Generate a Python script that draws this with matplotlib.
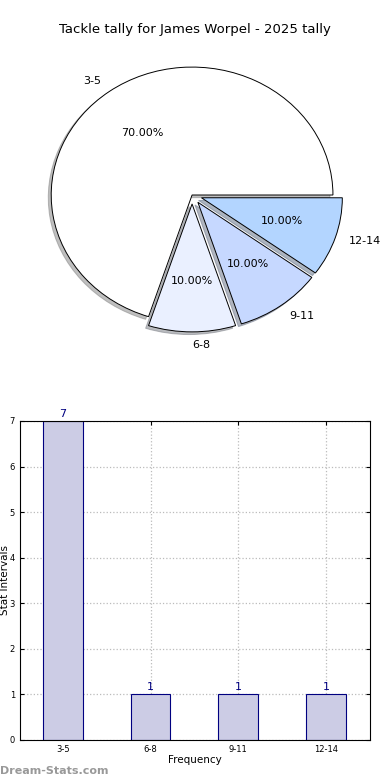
#%% Imports
import matplotlib
matplotlib.use('Agg')
import matplotlib.pyplot as plt

#%% Data
intervals = ['3-5', '6-8', '9-11', '12-14']
counts = [7, 1, 1, 1]
pie_colors = ['#ffffff', '#eaf0ff', '#c6d8ff', '#b3d5ff']
explode = [0, 0.07, 0.07, 0.07]
title = 'Tackle tally for James Worpel - 2025 tally'

#%% Figure
fig = plt.figure(figsize=(3.9, 7.8), dpi=100)

# pie on top (not equal aspect, slightly squashed like the original)
ax_pie = fig.add_axes([0.041, 0.545, 0.903, 0.410])
wedges, texts, autotexts = ax_pie.pie(
    counts, labels=intervals, colors=pie_colors, explode=explode,
    autopct='%1.2f%%', startangle=0,
    shadow={'ox': -0.015, 'oy': -0.015, 'shade': 0.5},
    wedgeprops={'edgecolor': 'black', 'linewidth': 0.7},
    textprops={'fontsize': 8})
ax_pie.set_aspect('auto')
ax_pie.set_xlim(-1.25, 1.25)
ax_pie.set_ylim(-1.25, 1.25)
fig.text(0.5, 0.962, title, ha='center', va='center', fontsize=9.5)

# bar chart below
ax_bar = fig.add_axes([0.051, 0.0513, 0.897, 0.409])
positions = list(range(len(intervals)))
bars = ax_bar.bar(positions, counts, width=0.45, color='#ccccE5',
                  edgecolor='#000080', linewidth=0.8, zorder=2)
for pos, val in zip(positions, counts):
    ax_bar.text(pos, val + 0.05, str(val), ha='center', va='bottom',
                color='#000080', fontsize=8)
ax_bar.set_xlim(-0.49, 3.5)
ax_bar.set_ylim(0, 7)
ax_bar.set_xticks(positions)
ax_bar.set_xticklabels(intervals)
ax_bar.set_yticks(range(0, 8))
ax_bar.tick_params(labelsize=6, direction='in', top=True, right=True, length=3)
ax_bar.grid(True, linestyle=':', color='#bbbbbb', linewidth=0.9, zorder=0)
ax_bar.set_axisbelow(True)
ax_bar.set_xlabel('Frequency', fontsize=7.5, labelpad=1)
ax_bar.set_ylabel('Stat Intervals', fontsize=7.5, labelpad=0)

fig.text(0.0, 0.012, 'Dream-Stats.com', ha='left', va='center',
         fontsize=8, color='#999999', fontweight='bold')

fig.savefig('out.png', dpi=100)
